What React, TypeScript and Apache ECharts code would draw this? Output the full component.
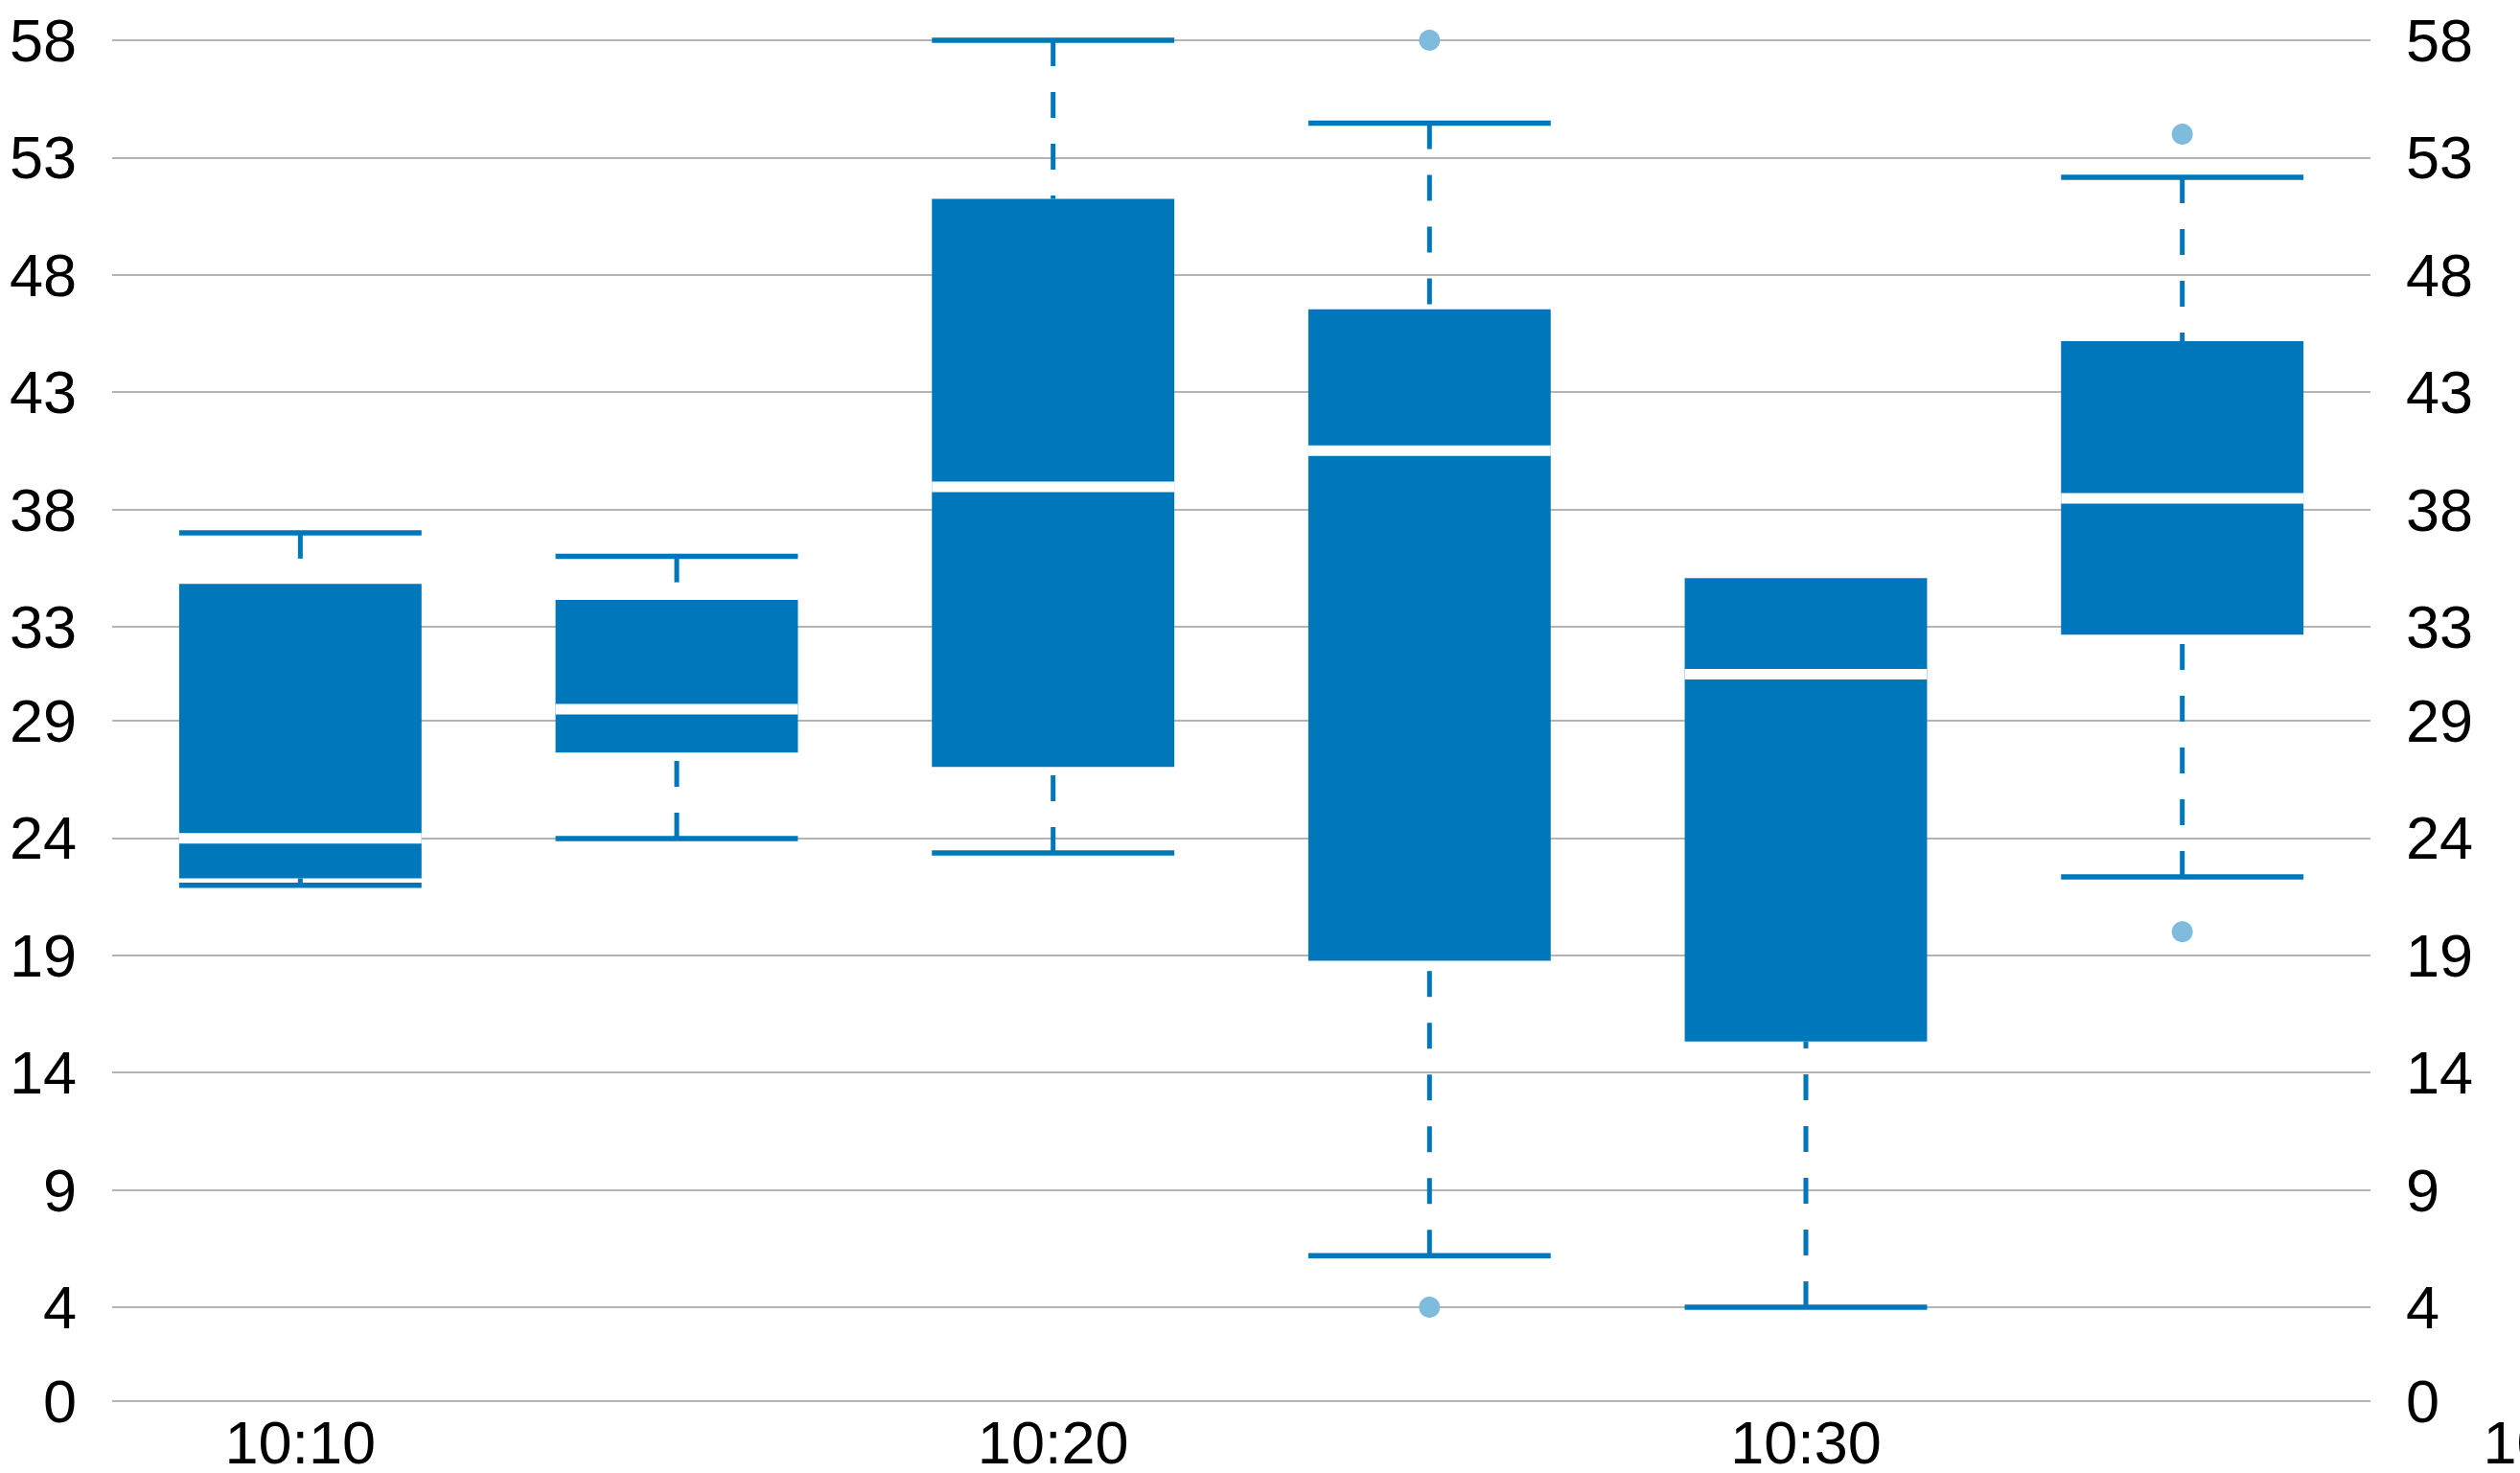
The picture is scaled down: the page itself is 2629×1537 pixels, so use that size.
import React, { useEffect, useRef } from "react";
import * as echarts from "echarts";

// minutes after 10:00
const times = [10, 15, 20, 25, 30, 35];
const lows = [21.98, 23.98, 23.36, 6.2, 4.0, 22.34];
const q1s = [22.28, 27.64, 27.03, 18.77, 15.33, 32.67];
const medians = [23.99, 29.49, 38.97, 40.51, 30.98, 38.48];
const q3s = [34.83, 34.15, 51.24, 46.53, 35.08, 45.17];
const highs = [37.01, 36.0, 58.0, 54.47, 35.08, 52.16];
const outlierTimes = [25, 25, 35, 35];
const outlierValues = [58, 4, 54.0, 20.0];
const yTicks = [0, 4, 9, 14, 19, 24, 29, 33, 38, 43, 48, 53, 58];
const xTicks = [10, 20, 30];
const xExtraTick = 40;

const BLUE = "#0077bb";
const OUTLIER = "#7fbbdd";
const GRID = "#b4b4b4";
const FONT = "Liberation Sans, Arial, sans-serif";
const FONT_SIZE = 63;
const BOX_WIDTH = 3.22; // in minutes
const X_LABEL_MARGIN = 11;

const fmtTime = (v: number) => `10:${String(Math.round(v)).padStart(2, "0")}`;

export default function App() {
  const ref = useRef<HTMLDivElement>(null);
  useEffect(() => {
    document.body.style.margin = "0";
    const chart = echarts.init(ref.current!, null, { renderer: "svg" });
    const boxData = times.map((t, i) => [t, lows[i], q1s[i], medians[i], q3s[i], highs[i]]);
    const outData = outlierTimes.map((t, i) => [t, outlierValues[i]]);
    const yAxisBase = {
      type: "value",
      min: 0,
      max: 58,
      axisLine: { show: false },
      axisTick: { show: false, customValues: yTicks },
      axisLabel: {
        customValues: yTicks,
        color: "#000",
        fontSize: FONT_SIZE,
        fontFamily: FONT,
        margin: 37,
        formatter: (v: number) => String(v),
      },
    };
    chart.setOption({
      animation: false,
      backgroundColor: "#fff",
      grid: { left: 117, right: 156, top: 42, bottom: 75, containLabel: false, outerBoundsMode: "none" },
      xAxis: {
        type: "value",
        min: 7.5,
        max: 37.5,
        axisLine: { show: false },
        axisTick: { show: false, customValues: xTicks },
        splitLine: { show: false },
        axisLabel: {
          customValues: xTicks,
          color: "#000",
          fontSize: FONT_SIZE,
          fontFamily: FONT,
          margin: X_LABEL_MARGIN,
          formatter: (v: number) => fmtTime(v),
        },
      },
      yAxis: [
        {
          ...yAxisBase,
          position: "left",
          splitLine: { show: true, lineStyle: { color: GRID, width: 2 } },
        },
        {
          ...yAxisBase,
          position: "right",
          splitLine: { show: false },
        },
      ],
      series: [
        {
          type: "custom",
          data: boxData,
          encode: { x: 0, y: [1, 2, 3, 4, 5] },
          renderItem: (params: any, api: any) => {
            const x = api.value(0);
            const w = api.size([BOX_WIDTH, 0])[0];
            const half = w / 2;
            const low = api.coord([x, api.value(1)]);
            const q1 = api.coord([x, api.value(2)]);
            const med = api.coord([x, api.value(3)]);
            const q3 = api.coord([x, api.value(4)]);
            const high = api.coord([x, api.value(5)]);
            const cx = low[0];
            const dashStyle = { stroke: BLUE, lineWidth: 5, lineDash: [27, 27], fill: null };
            const capStyle = { stroke: BLUE, lineWidth: 5.5, fill: null };
            const children: any[] = [];
            if (high[1] < q3[1] - 0.5) {
              children.push({ type: "line", shape: { x1: cx, y1: high[1], x2: cx, y2: q3[1] }, style: dashStyle });
              children.push({ type: "line", shape: { x1: cx - half, y1: high[1], x2: cx + half, y2: high[1] }, style: capStyle });
            }
            if (low[1] > q1[1] + 0.5) {
              children.push({ type: "line", shape: { x1: cx, y1: low[1], x2: cx, y2: q1[1] }, style: dashStyle });
              children.push({ type: "line", shape: { x1: cx - half, y1: low[1], x2: cx + half, y2: low[1] }, style: capStyle });
            }
            children.push({
              type: "rect",
              shape: { x: cx - half, y: q3[1], width: w, height: q1[1] - q3[1] },
              style: { fill: BLUE },
            });
            children.push({
              type: "line",
              shape: { x1: cx - half, y1: med[1], x2: cx + half, y2: med[1] },
              style: { stroke: "#fff", lineWidth: 11 },
            });
            return { type: "group", children };
          },
          z: 3,
        },
        {
          type: "scatter",
          data: outData,
          symbol: "circle",
          symbolSize: 22,
          itemStyle: { color: OUTLIER, opacity: 1 },
          z: 4,
        },
      ],
    });
    const px = chart.convertToPixel({ xAxisIndex: 0 }, xExtraTick) as number;
    const py = chart.convertToPixel({ yAxisIndex: 0 }, 0) as number;
    chart.setOption({
      graphic: [
        {
          type: "text",
          x: px,
          y: py + X_LABEL_MARGIN,
          style: {
            text: fmtTime(xExtraTick),
            fill: "#000",
            fontSize: FONT_SIZE,
            fontFamily: FONT,
            align: "center",
            verticalAlign: "top",
          },
        },
      ],
    });
    return () => chart.dispose();
  }, []);
  return <div ref={ref} style={{ position: "fixed", left: 0, top: 0, width: 2629, height: 1537 }} />;
}
